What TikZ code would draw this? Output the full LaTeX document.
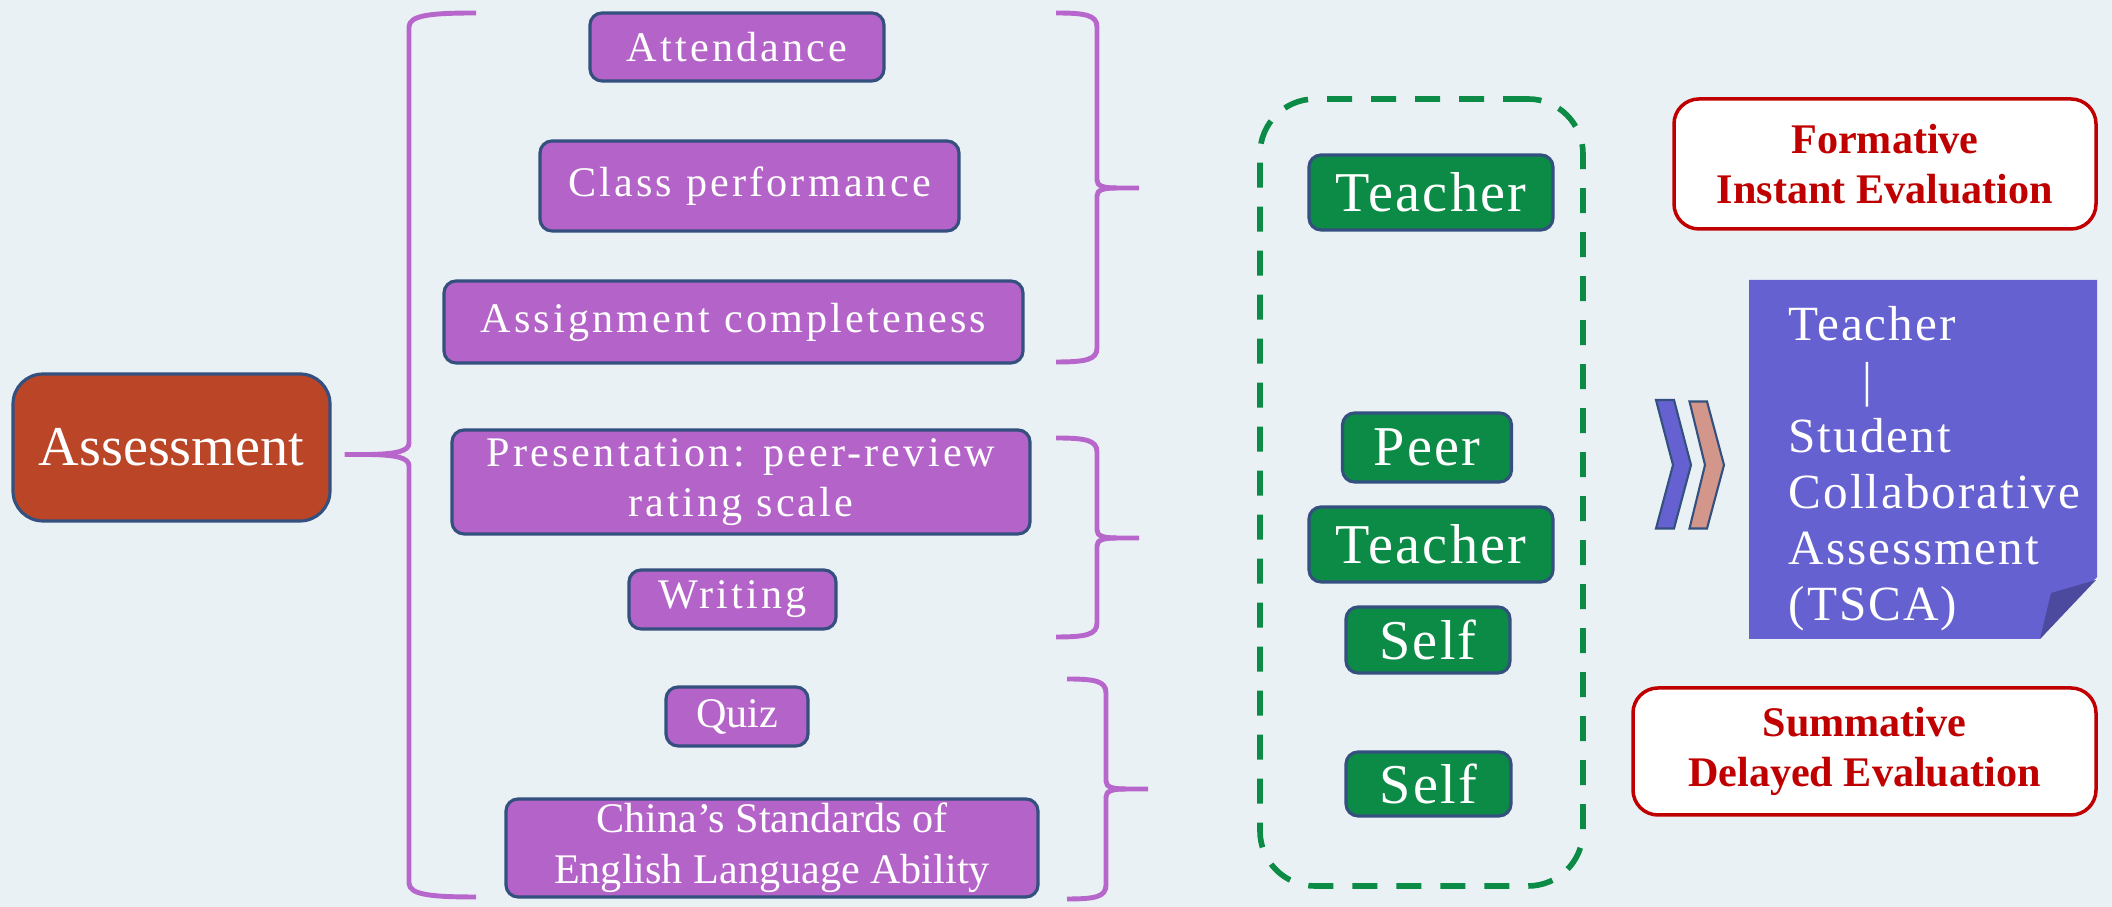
\documentclass[tikz,border=0pt]{standalone}
\usepackage{fontspec}
\setmainfont{Liberation Serif}
\newfontfamily\spacedfont[LetterSpace=7.5]{Liberation Serif}
\newfontfamily\rolefont[LetterSpace=4]{Liberation Serif}
\usepackage{xcolor}
\usetikzlibrary{calc}

\definecolor{bgblue}{HTML}{EAF1F5}
\definecolor{itempurple}{HTML}{B463C8}
\definecolor{bracepurple}{HTML}{B767CB}
\definecolor{rolegreen}{HTML}{0B8B45}
\definecolor{assessbrown}{HTML}{BB4527}
\definecolor{boxborder}{HTML}{34507E}
\definecolor{evalred}{HTML}{C00000}
\definecolor{notefill}{HTML}{6561D0}
\definecolor{folddark}{HTML}{4B4A9F}
\definecolor{chevsalmon}{HTML}{D3968B}

\begin{document}
\begin{tikzpicture}[
    roundbox/.style={rounded corners=0.12cm, draw=boxborder, line width=0.9pt, text=white, inner sep=0pt, align=center},
    itembox/.style={roundbox, fill=itempurple, font=\spacedfont\fontsize{12}{14.4}\selectfont},
    plainitem/.style={roundbox, fill=itempurple, font=\fontsize{12}{14.4}\selectfont},
    rolebox/.style={roundbox, fill=rolegreen, font=\rolefont\fontsize{16}{19}\selectfont},
    evalbox/.style={rounded corners=0.25cm, draw=evalred, line width=1pt, fill=white, text=evalred, inner sep=0pt, align=center, font=\bfseries\fontsize{12}{14.4}\selectfont},
    brace/.style={draw=bracepurple, line width=1.4pt},
  ]
        % Background
        \fill[bgblue] (0,0) rectangle (21.12,9.07);
        \useasboundingbox (0,0) rectangle (21.12,9.07);

        % Root node
        \node[roundbox, fill=assessbrown, rounded corners=0.3cm, minimum width=3.17cm, minimum height=1.47cm,
              font=\fontsize{16}{19}\selectfont] (assess) at (1.715,4.595) {Assessment};

        % Assessment items
        \node[itembox, minimum width=2.94cm, minimum height=0.68cm] (attend) at (7.37,8.60) {Attendance};
        \node[itembox, minimum width=4.19cm, minimum height=0.90cm] (classperf) at (7.495,7.21) {Class performance};
        \node[itembox, minimum width=5.79cm, minimum height=0.82cm] (assign) at (7.335,5.85) {Assignment completeness};
        \node[itembox, minimum width=5.78cm, minimum height=1.04cm] (present) at (7.41,4.25) {Presentation: peer-review\\rating scale};
        \node[itembox, minimum width=2.07cm, minimum height=0.59cm] (writing) at (7.325,3.075) {Writing};
        \node[plainitem, minimum width=1.42cm, minimum height=0.59cm] (quiz) at (7.37,1.905) {Quiz};
        \node[plainitem, minimum width=5.32cm, minimum height=0.98cm] (csel) at (7.72,0.59) {China’s Standards of\\English Language Ability};

        % Left brace from the root
        \draw[brace] (4.76,8.94) .. controls (4.32,8.94) and (4.09,8.92) .. (4.09,8.80) -- (4.09,4.64)
          .. controls (4.09,4.56) and (3.97,4.53) .. (3.70,4.525) -- ([xshift=0.13cm]assess.east |- 0,4.525);
        \draw[brace] (4.76,0.10) .. controls (4.32,0.10) and (4.09,0.12) .. (4.09,0.24) -- (4.09,4.41)
          .. controls (4.09,4.49) and (3.97,4.52) .. (3.70,4.525);

        % Right braces round the groups
        \draw[brace] (10.56,8.94) .. controls (10.85,8.94) and (10.97,8.92) .. (10.97,8.80) -- (10.97,7.27)
          .. controls (10.97,7.21) and (11.03,7.19) .. (11.17,7.19) -- (11.39,7.19);
        \draw[brace] (10.56,5.45) .. controls (10.85,5.45) and (10.97,5.47) .. (10.97,5.59) -- (10.97,7.11)
          .. controls (10.97,7.17) and (11.03,7.19) .. (11.17,7.19);
        \draw[brace] (10.56,4.69) .. controls (10.85,4.69) and (10.97,4.67) .. (10.97,4.55) -- (10.97,3.77)
          .. controls (10.97,3.71) and (11.03,3.69) .. (11.17,3.69) -- (11.39,3.69);
        \draw[brace] (10.56,2.70) .. controls (10.85,2.70) and (10.97,2.72) .. (10.97,2.84) -- (10.97,3.61)
          .. controls (10.97,3.67) and (11.03,3.69) .. (11.17,3.69);
        \draw[brace] (10.67,2.28) .. controls (10.95,2.28) and (11.06,2.26) .. (11.06,2.14) -- (11.06,1.26)
          .. controls (11.06,1.20) and (11.12,1.18) .. (11.26,1.18) -- (11.48,1.18);
        \draw[brace] (10.67,0.08) .. controls (10.95,0.08) and (11.06,0.10) .. (11.06,0.22) -- (11.06,1.10)
          .. controls (11.06,1.16) and (11.12,1.18) .. (11.26,1.18);

        % Evaluators
        \node[draw=rolegreen, dashed, dash pattern=on 0.25cm off 0.19cm, line width=1.6pt, rounded corners=0.55cm,
              minimum width=3.23cm, minimum height=7.87cm] (frame) at (14.215,4.145) {};
        \node[rolebox, minimum width=2.44cm, minimum height=0.75cm] (teachA) at (14.31,7.145) {Teacher};
        \node[rolebox, minimum width=1.69cm, minimum height=0.69cm] (peer) at (14.27,4.595) {Peer};
        \node[rolebox, minimum width=2.44cm, minimum height=0.75cm] (teachB) at (14.31,3.625) {Teacher};
        \node[rolebox, minimum width=1.64cm, minimum height=0.66cm] (selfA) at (14.28,2.67) {Self};
        \node[rolebox, minimum width=1.65cm, minimum height=0.64cm] (selfB) at (14.285,1.23) {Self};

        % Evaluation types
        \node[evalbox, minimum width=4.22cm, minimum height=1.30cm] (formative) at (18.85,7.43) {Formative\\Instant Evaluation};
        \node[evalbox, minimum width=4.63cm, minimum height=1.27cm] (summative) at (18.645,1.555) {Summative\\Delayed Evaluation};

        % Double chevron
        \filldraw[fill=notefill, draw=boxborder, line width=0.6pt]
          (16.56,5.07) -- (16.74,5.07) -- (16.91,4.42) -- (16.74,3.785) -- (16.56,3.785) -- (16.73,4.42) -- cycle;
        \filldraw[fill=chevsalmon, draw=boxborder, line width=0.6pt]
          (16.895,5.055) -- (17.07,5.055) -- (17.24,4.42) -- (17.07,3.785) -- (16.895,3.785) -- (17.05,4.42) -- cycle;

        % TSCA note with folded corner
        \fill[notefill] (17.49,6.27) -- (20.97,6.27) -- (20.97,3.30) -- (20.40,2.68) -- (17.49,2.68) -- cycle;
        \fill[folddark] (20.96,3.27) -- (20.51,3.14) -- (20.40,2.68) -- cycle;
        \node[anchor=north west, inner sep=0pt, align=left, text=white, font=\rolefont\fontsize{14}{15.9}\selectfont]
          (tsca) at (17.88,6.01) {Teacher\\\hspace*{0.74cm}|\\Student\\Collaborative\\Assessment\\(TSCA)};

      \end{tikzpicture}
\end{document}
